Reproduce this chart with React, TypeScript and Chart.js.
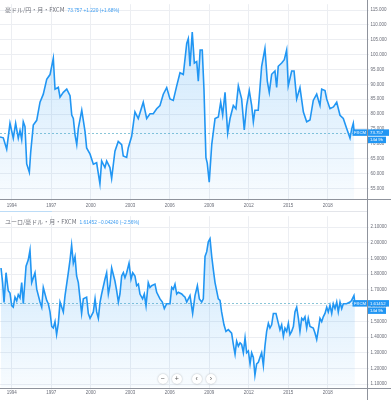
import React, { useEffect, useRef } from "react";
import { Chart, registerables } from "chart.js";

Chart.register(...registerables);

// ---------- data ----------
const YEAR_TICKS = [1994, 1997, 2000, 2003, 2006, 2009, 2012, 2015, 2018];

const AUDJPY_TICKS = [55, 60, 65, 70, 75, 80, 85, 90, 95, 100, 105, 110, 115];
const AUDJPY_DATES = [
  1993.11, 1993.36, 1993.62, 1993.87, 1994.12, 1994.3, 1994.5, 1994.63, 1994.76, 1994.88,
  1995.01, 1995.14, 1995.34, 1995.44, 1995.64, 1995.9, 1996.15, 1996.4, 1996.66, 1996.91,
  1997.16, 1997.29, 1997.54, 1997.67, 1997.92, 1998.18, 1998.43, 1998.56, 1998.68, 1998.81,
  1998.94, 1999.06, 1999.32, 1999.57, 1999.69, 1999.95, 2000.2, 2000.45, 2000.7, 2000.83,
  2001.08, 2001.21, 2001.46, 2001.59, 2001.84, 2002.09, 2002.35, 2002.47, 2002.73, 2002.85,
  2003.11, 2003.36, 2003.61, 2003.99, 2004.25, 2004.5, 2004.75, 2005.01, 2005.26, 2005.51,
  2005.77, 2006.02, 2006.27, 2006.53, 2006.78, 2007.03, 2007.29, 2007.41, 2007.54, 2007.71,
  2007.87, 2008.05, 2008.17, 2008.31, 2008.47, 2008.6, 2008.75, 2008.85, 2009.0, 2009.19,
  2009.44, 2009.69, 2009.87, 2010.02, 2010.2, 2010.4, 2010.58, 2010.83, 2011.03, 2011.21,
  2011.46, 2011.66, 2011.84, 2012.04, 2012.22, 2012.35, 2012.47, 2012.72, 2012.98, 2013.23,
  2013.41, 2013.56, 2013.74, 2013.99, 2014.12, 2014.24, 2014.5, 2014.7, 2014.88, 2015.0,
  2015.26, 2015.44, 2015.64, 2015.89, 2016.15, 2016.4, 2016.65, 2016.9, 2017.16, 2017.41,
  2017.54, 2017.79, 2017.92, 2018.17, 2018.43, 2018.68, 2018.93, 2019.18, 2019.43, 2019.69,
  2019.82, 2019.94, 2020.01,
];
const AUDJPY_VALUES = [
  72.3, 72.0, 68.2, 76.9, 71.9, 76.9, 71.9, 74.5, 71.4, 77.4,
  75.8, 63.2, 60.4, 67.0, 76.3, 77.9, 84.0, 86.7, 91.7, 93.3,
  98.8, 88.4, 89.0, 85.7, 87.3, 88.4, 86.2, 79.7, 78.5, 73.0,
  69.7, 75.2, 81.3, 74.1, 68.6, 66.5, 63.1, 63.6, 56.5, 64.2,
  62.0, 64.2, 62.0, 58.3, 67.5, 70.8, 69.7, 65.9, 65.4, 68.6,
  72.5, 80.7, 78.5, 84.0, 78.5, 80.1, 80.1, 81.8, 82.9, 86.7,
  88.9, 85.1, 84.6, 89.5, 93.9, 93.3, 103.8, 105.4, 96.1, 107.6,
  97.2, 97.7, 91.1, 101.6, 101.6, 88.4, 65.3, 63.5, 57.1, 69.7,
  78.5, 79.0, 84.0, 79.7, 87.3, 73.6, 78.5, 82.9, 81.8, 89.5,
  85.1, 74.7, 82.9, 87.9, 82.9, 77.4, 81.3, 81.3, 96.1, 102.1,
  91.1, 87.3, 93.4, 94.5, 89.0, 96.1, 97.2, 98.3, 101.6, 89.5,
  94.5, 94.5, 85.1, 88.9, 80.7, 77.4, 78.0, 84.6, 86.7, 82.9,
  88.4, 87.9, 85.1, 81.8, 82.4, 84.0, 79.6, 78.5, 75.2, 71.9,
  75.0, 76.9, 73.757,
];

const EURAUD_TICKS = [1.1, 1.2, 1.3, 1.4, 1.5, 1.6, 1.7, 1.8, 1.9, 2.0, 2.1];
const EURAUD_DATES = [
  1993.19, 1993.31, 1993.42, 1993.57, 1993.74, 1993.87, 1994.0, 1994.12, 1994.25, 1994.38,
  1994.5, 1994.63, 1994.76, 1994.88, 1995.09, 1995.26, 1995.39, 1995.52, 1995.77, 1995.9,
  1996.15, 1996.28, 1996.4, 1996.66, 1996.78, 1996.91, 1997.04, 1997.16, 1997.29, 1997.41,
  1997.54, 1997.67, 1997.92, 1998.05, 1998.3, 1998.43, 1998.55, 1998.68, 1998.81, 1998.93,
  1999.06, 1999.19, 1999.31, 1999.44, 1999.69, 1999.82, 1999.95, 2000.2, 2000.33, 2000.45,
  2000.58, 2000.71, 2000.83, 2001.08, 2001.21, 2001.34, 2001.46, 2001.59, 2001.84, 2001.97,
  2002.1, 2002.22, 2002.35, 2002.48, 2002.6, 2002.73, 2002.91, 2003.06, 2003.19, 2003.36,
  2003.49, 2003.62, 2003.74, 2003.94, 2004.07, 2004.2, 2004.37, 2004.5, 2004.63, 2004.88,
  2005.01, 2005.26, 2005.44, 2005.59, 2005.77, 2006.02, 2006.15, 2006.27, 2006.4, 2006.53,
  2006.65, 2006.91, 2007.03, 2007.16, 2007.29, 2007.54, 2007.74, 2007.92, 2008.1, 2008.25,
  2008.43, 2008.55, 2008.68, 2008.81, 2008.93, 2009.06, 2009.19, 2009.31, 2009.44, 2009.69,
  2009.82, 2009.94, 2010.12, 2010.27, 2010.45, 2010.7, 2010.83, 2010.96, 2011.08, 2011.21,
  2011.34, 2011.46, 2011.59, 2011.72, 2011.84, 2011.97, 2012.1, 2012.22, 2012.35, 2012.47,
  2012.6, 2012.73, 2012.85, 2012.98, 2013.11, 2013.23, 2013.36, 2013.49, 2013.61, 2013.74,
  2013.87, 2014.07, 2014.25, 2014.37, 2014.5, 2014.63, 2014.75, 2014.88, 2015.01, 2015.13,
  2015.26, 2015.39, 2015.51, 2015.64, 2015.77, 2015.89, 2016.02, 2016.14, 2016.27, 2016.4,
  2016.52, 2016.65, 2016.9, 2017.03, 2017.16, 2017.28, 2017.41, 2017.54, 2017.66, 2017.79,
  2017.92, 2018.04, 2018.17, 2018.3, 2018.42, 2018.55, 2018.68, 2018.8, 2018.93, 2019.06,
  2019.18, 2019.43, 2019.69, 2019.81, 2019.99, 2020.06,
];
const EURAUD_VALUES = [
  1.84, 1.747, 1.62, 1.81, 1.695, 1.68, 1.6, 1.59, 1.654, 1.63,
  1.67, 1.65, 1.747, 1.612, 1.851, 1.892, 1.954, 1.747, 1.81, 1.705,
  1.623, 1.59, 1.716, 1.633, 1.612, 1.56, 1.467, 1.457, 1.498, 1.416,
  1.487, 1.623, 1.56, 1.664, 1.81, 1.892, 1.985, 1.871, 1.913, 1.789,
  1.747, 1.643, 1.55, 1.643, 1.654, 1.55, 1.519, 1.56, 1.643, 1.56,
  1.519, 1.623, 1.674, 1.768, 1.81, 1.674, 1.727, 1.84, 1.757, 1.695,
  1.623, 1.674, 1.789, 1.81, 1.778, 1.81, 1.871, 1.768, 1.81, 1.789,
  1.727, 1.737, 1.674, 1.643, 1.674, 1.6, 1.747, 1.716, 1.727, 1.737,
  1.685, 1.643, 1.623, 1.581, 1.612, 1.612, 1.716, 1.705, 1.737, 1.674,
  1.685, 1.674, 1.664, 1.654, 1.623, 1.664, 1.55, 1.664, 1.727, 1.643,
  1.623, 1.643, 1.913, 1.944, 2.007, 2.027, 1.913, 1.83, 1.747, 1.643,
  1.633, 1.56, 1.478, 1.436, 1.447, 1.425, 1.353, 1.29, 1.374, 1.342,
  1.363, 1.353, 1.3, 1.394, 1.3, 1.311, 1.229, 1.3, 1.27, 1.156,
  1.229, 1.239, 1.27, 1.3, 1.218, 1.342, 1.436, 1.487, 1.457, 1.478,
  1.55, 1.55, 1.487, 1.446, 1.478, 1.405, 1.457, 1.436, 1.487, 1.416,
  1.436, 1.467, 1.56, 1.59, 1.519, 1.436, 1.519, 1.508, 1.529, 1.457,
  1.519, 1.467, 1.457, 1.425, 1.384, 1.446, 1.519, 1.498, 1.529, 1.55,
  1.59, 1.56, 1.602, 1.55, 1.612, 1.581, 1.623, 1.56, 1.623, 1.581,
  1.612, 1.612, 1.623, 1.633, 1.664, 1.61452,
];

const X_MIN = 1993.112;
const X_MAX = 2020.98;

// ---------- style ----------
const LINE = "rgb(33,150,243)";
const GRID = "#eceef2";
const AXIS = "#8f939c";
const LABEL = "#6a6d78";
const NUM_FONT = "'Liberation Sans', Arial, sans-serif";
const JP_FONT = "'Noto Sans CJK JP', 'Noto Sans', sans-serif";

type PanelOpts = {
  dates: number[];
  values: number[];
  yTicks: number[];
  yMin: number;
  yMax: number;
  decimals: number;
  xAxisHeight: number;
  xPad: number;
  bottomRule: boolean;
};

const overlay = {
  id: "overlay",
  beforeDatasetsDraw(chart: any, _a: any, opts: any) {
    const { ctx, chartArea } = chart;
    const y = chart.scales.y.getPixelForValue(opts.last);
    ctx.save();
    ctx.strokeStyle = "rgba(60,160,190,0.6)";
    ctx.setLineDash([2, 2]);
    ctx.lineWidth = 1;
    ctx.beginPath();
    ctx.moveTo(chartArea.left, Math.round(y) + 0.5);
    ctx.lineTo(chartArea.right, Math.round(y) + 0.5);
    ctx.stroke();
    ctx.restore();
  },
  afterDraw(chart: any, _a: any, opts: any) {
    const { ctx, chartArea, width, height } = chart;
    ctx.save();
    ctx.strokeStyle = AXIS;
    ctx.lineWidth = 1;
    ctx.beginPath();
    const rx = Math.round(chartArea.right) + 0.5;
    ctx.moveTo(rx, 0);
    ctx.lineTo(rx, height);
    const by = Math.round(chartArea.bottom) + 0.5;
    ctx.moveTo(0, by);
    ctx.lineTo(width, by);
    ctx.stroke();
    if (opts.bottomRule) {
      ctx.strokeStyle = "#e3e5ea";
      ctx.beginPath();
      ctx.moveTo(0, height - 0.5);
      ctx.lineTo(rx - 0.5, height - 0.5);
      ctx.stroke();
    }
    // last value labels
    const y = chart.scales.y.getPixelForValue(opts.last);
    const h = 6.5;
    ctx.fillStyle = "#2196f3";
    ctx.fillRect(chartArea.right - 14.5, y - h / 2, 14.5, h);
    ctx.fillRect(chartArea.right + 1, y - h / 2, 21, h);
    ctx.fillRect(chartArea.right + 1, y + h / 2 + 0.8, 18, h);
    ctx.fillStyle = "#ffffff";
    ctx.font = `4.3px ${NUM_FONT}`;
    ctx.textBaseline = "middle";
    ctx.textAlign = "left";
    ctx.fillText("FXCM", chartArea.right - 13, y + 0.3);
    ctx.fillText(opts.lastText, chartArea.right + 3, y + 0.3);
    ctx.fillText("14d 9h", chartArea.right + 3, y + h + 1.1);
    ctx.restore();
  },
};

function buildChart(canvas: HTMLCanvasElement, p: PanelOpts) {
  const points = p.dates.map((d, i) => ({ x: d, y: p.values[i] }));
  const last = p.values[p.values.length - 1];
  return new Chart(canvas, {
    type: "line",
    data: {
      datasets: [
        {
          data: points,
          borderColor: LINE,
          borderWidth: 1.6,
          pointRadius: 0,
          tension: 0,
          fill: "start",
          backgroundColor: (c: any) => {
            const area = c.chart.chartArea;
            if (!area) return "rgba(33,150,243,0.12)";
            const g = c.chart.ctx.createLinearGradient(0, area.top, 0, area.bottom);
            g.addColorStop(0, "rgba(33,150,243,0.26)");
            g.addColorStop(1, "rgba(33,150,243,0.03)");
            return g;
          },
        },
      ],
    },
    options: {
      animation: false,
      responsive: false,
      maintainAspectRatio: false,
      layout: { padding: 0 },
      plugins: {
        legend: { display: false },
        tooltip: { enabled: false },
        overlay: {
          last,
          lastText: last.toFixed(p.decimals),
          bottomRule: p.bottomRule,
        },
      } as any,
      scales: {
        x: {
          type: "linear",
          min: X_MIN,
          max: X_MAX,
          afterBuildTicks: (s: any) => {
            s.ticks = YEAR_TICKS.map((v) => ({ value: v }));
          },
          afterFit: (s: any) => {
            s.height = p.xAxisHeight;
          },
          grid: { color: GRID, tickLength: 2, drawTicks: true },
          border: { display: false },
          ticks: {
            autoSkip: false,
            maxRotation: 0,
            padding: p.xPad,
            color: LABEL,
            font: { size: 4.5, family: NUM_FONT },
            callback: (v: any) => String(v),
          },
        },
        y: {
          type: "linear",
          position: "right",
          min: p.yMin,
          max: p.yMax,
          afterBuildTicks: (s: any) => {
            s.ticks = p.yTicks.map((v) => ({ value: v }));
          },
          afterFit: (s: any) => {
            s.width = 24;
          },
          grid: { color: GRID, tickLength: 2, drawTicks: true },
          border: { display: false },
          ticks: {
            padding: 1.5,
            color: LABEL,
            font: { size: 4.5, family: NUM_FONT },
            callback: (v: any) => Number(v).toFixed(p.decimals),
          },
        },
      },
    },
    plugins: [overlay as any],
  });
}

const btn: React.CSSProperties = {
  position: "absolute",
  width: 10,
  height: 10,
  borderRadius: "50%",
  background: "#fff",
  boxShadow: "0 0 2px rgba(0,0,0,0.28)",
  color: "#555",
  fontSize: 7,
  lineHeight: "10px",
  textAlign: "center",
  fontFamily: NUM_FONT,
  top: 374,
};

export default function App() {
  const topRef = useRef<HTMLCanvasElement>(null);
  const botRef = useRef<HTMLCanvasElement>(null);

  useEffect(() => {
    const c1 = buildChart(topRef.current!, {
      dates: AUDJPY_DATES,
      values: AUDJPY_VALUES,
      yTicks: AUDJPY_TICKS,
      yMin: 51.4,
      yMax: 117.0,
      decimals: 3,
      xAxisHeight: 13,
      xPad: 2.3,
      bottomRule: true,
    });
    const c2 = buildChart(botRef.current!, {
      dates: EURAUD_DATES,
      values: EURAUD_VALUES,
      yTicks: EURAUD_TICKS,
      yMin: 1.0782,
      yMax: 2.17,
      decimals: 5,
      xAxisHeight: 12.5,
      xPad: 0.4,
      bottomRule: false,
    });
    return () => {
      c1.destroy();
      c2.destroy();
    };
  }, []);

  const title: React.CSSProperties = {
    position: "absolute",
    left: 5,
    fontFamily: JP_FONT,
    fontSize: 6,
    color: "#6f717a",
    whiteSpace: "nowrap",
    lineHeight: "8px",
  };
  const blue: React.CSSProperties = { color: "#3d9cf0", fontFamily: NUM_FONT, fontSize: 4.8, marginLeft: 3 };

  return (
    <div
      style={{
        position: "absolute",
        left: 0,
        top: 0,
        width: 391,
        height: 400,
        background: "#fff",
        overflow: "hidden",
      }}
    >
      <canvas
        ref={topRef}
        width={391}
        height={212}
        style={{ position: "absolute", left: 0, top: 0, width: 391, height: 212 }}
      />
      <canvas
        ref={botRef}
        width={391}
        height={188}
        style={{ position: "absolute", left: 0, top: 212, width: 391, height: 188 }}
      />
      <div style={{ position: "absolute", left: 0, top: 211, width: 52, height: 1, background: "#bcdcf7" }} />
      <div style={{ ...title, top: 6 }}>
        豪ドル/円・月・FXCM<span style={blue}>73.757 +1.220 (+1.68%)</span>
      </div>
      <div style={{ ...title, top: 218 }}>
        ユーロ/豪ドル・月・FXCM<span style={blue}>1.61452 −0.04240 (−2.56%)</span>
      </div>
      <div style={{ ...btn, left: 157.5 }}>−</div>
      <div style={{ ...btn, left: 171.7 }}>+</div>
      <div style={{ ...btn, left: 191.7 }}>‹</div>
      <div style={{ ...btn, left: 206 }}>›</div>
    </div>
  );
}
